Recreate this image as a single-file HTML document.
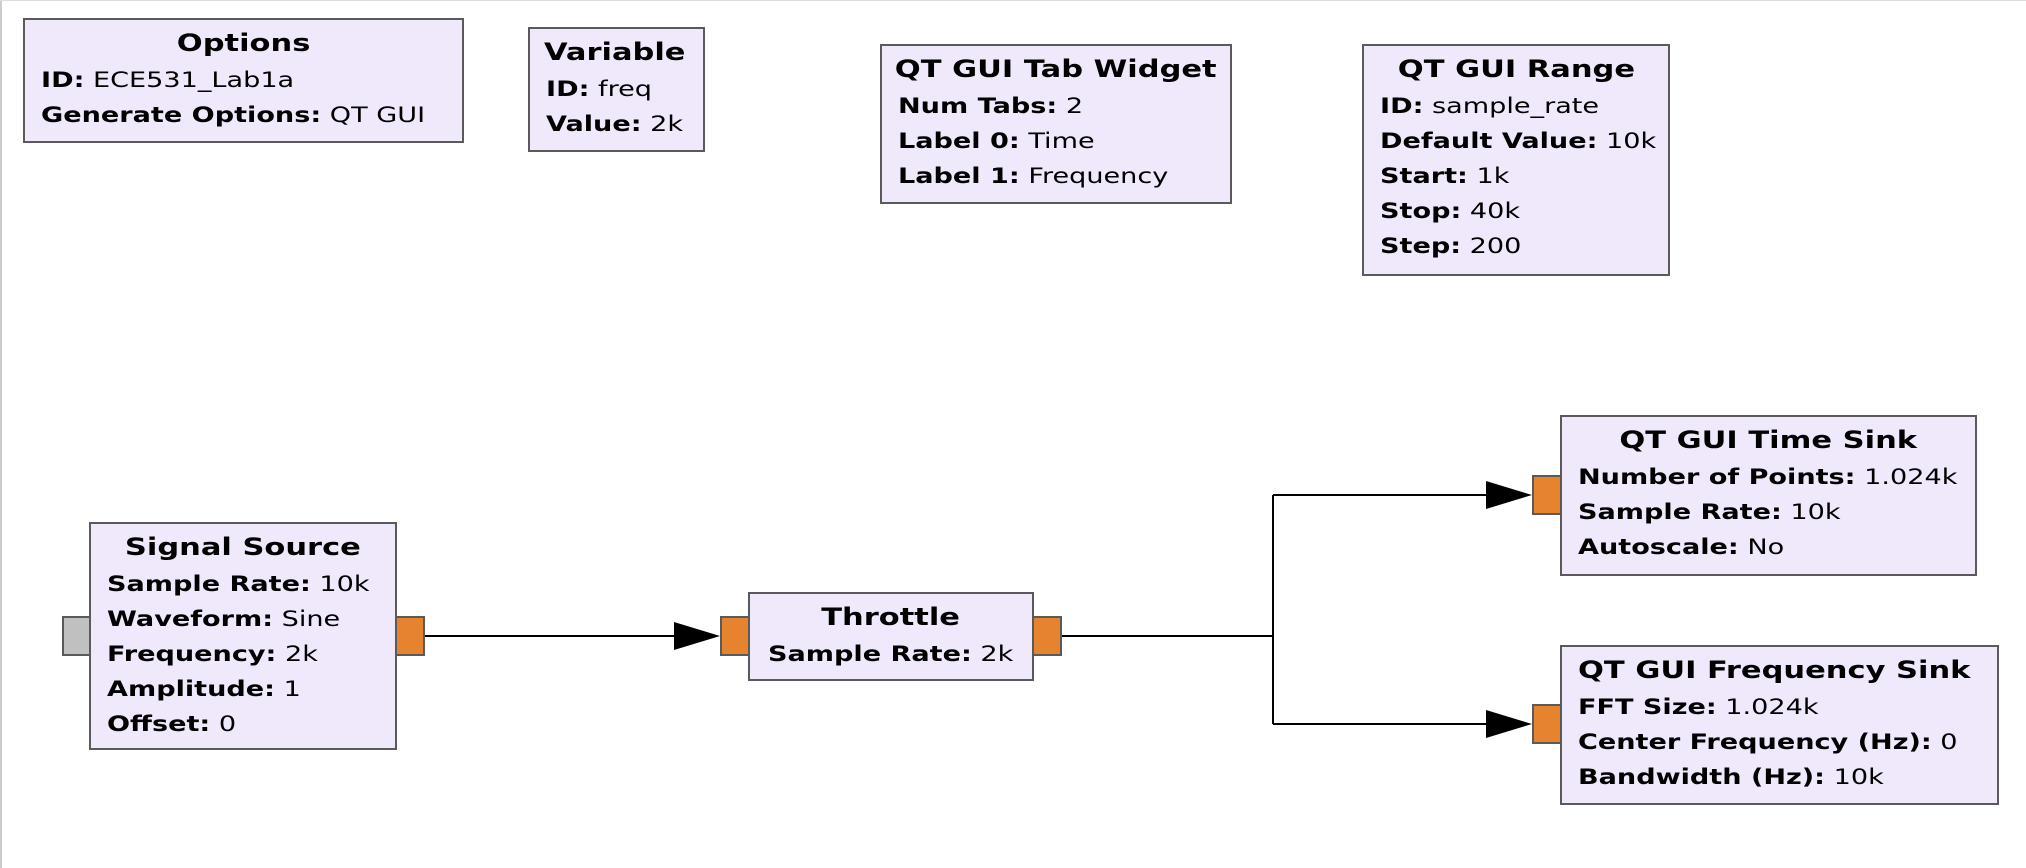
<!DOCTYPE html>
<html><head><meta charset="utf-8"><style>
html,body{margin:0;padding:0;background:#fff;}
body{width:2026px;height:868px;position:relative;overflow:hidden;font-family:"DejaVu Sans","Liberation Sans",sans-serif;color:#000;}
.b{position:absolute;background:#efe9fb;border:2px solid #5a5a5a;box-sizing:border-box;}
.t{position:absolute;left:0;right:0;top:6px;height:35px;line-height:35px;text-align:center;font-weight:bold;font-size:24px;white-space:nowrap;}
.t span{display:inline-block;transform:scaleX(1.27);transform-origin:center;}
.r{position:absolute;left:16px;height:35px;line-height:35px;font-size:21px;white-space:nowrap;transform:scaleX(1.29);transform-origin:left center;}
.r b{font-weight:bold;}
.p{position:absolute;border:2px solid #5a5a5a;box-sizing:border-box;}
.o{background:#e5832f;}
.g{background:#c0c0c0;}
svg{position:absolute;left:0;top:0;}
</style></head><body>
<div style="position:absolute;left:0;top:0;width:2px;height:868px;background:#ccc"></div>
<div style="position:absolute;left:0;top:0;width:2026px;height:1px;background:#ddd"></div>

<svg width="2026" height="868">
<g stroke="#000" stroke-width="2" fill="none">
<polyline points="425,636 690,636"/>
<polyline points="1062,636 1273,636"/>
<polyline points="1273,495 1273,724"/>
<polyline points="1273,495 1500,495"/>
<polyline points="1273,724 1500,724"/>
</g>
<g fill="#000">
<polygon points="674,622 720,636 674,650"/>
<polygon points="1486,481 1532,495 1486,509"/>
<polygon points="1486,710 1532,724 1486,738"/>
</g>
</svg>

<div class="b" style="left:23px;top:18px;width:441px;height:125px">
<div class="t"><span>Options</span></div>
<div class="r" style="top:43px"><b>ID:</b> ECE531_Lab1a</div>
<div class="r" style="top:78px"><b>Generate Options:</b> QT GUI</div>
</div>

<div class="b" style="left:528px;top:27px;width:177px;height:125px">
<div class="t" style="text-align:left;left:14px"><span style="transform-origin:left center">Variable</span></div>
<div class="r" style="top:43px"><b>ID:</b> freq</div>
<div class="r" style="top:78px"><b>Value:</b> 2k</div>
</div>

<div class="b" style="left:880px;top:44px;width:352px;height:160px">
<div class="t"><span>QT GUI Tab Widget</span></div>
<div class="r" style="top:43px"><b>Num Tabs:</b> 2</div>
<div class="r" style="top:78px"><b>Label 0:</b> Time</div>
<div class="r" style="top:113px"><b>Label 1:</b> Frequency</div>
</div>

<div class="b" style="left:1362px;top:44px;width:308px;height:232px">
<div class="t"><span>QT GUI Range</span></div>
<div class="r" style="top:43px"><b>ID:</b> sample_rate</div>
<div class="r" style="top:78px"><b>Default Value:</b> 10k</div>
<div class="r" style="top:113px"><b>Start:</b> 1k</div>
<div class="r" style="top:148px"><b>Stop:</b> 40k</div>
<div class="r" style="top:183px"><b>Step:</b> 200</div>
</div>

<div class="p g" style="left:62px;top:616px;width:29px;height:40px"></div>
<div class="p o" style="left:395px;top:616px;width:30px;height:40px"></div>
<div class="b" style="left:89px;top:522px;width:308px;height:228px">
<div class="t"><span>Signal Source</span></div>
<div class="r" style="top:43px"><b>Sample Rate:</b> 10k</div>
<div class="r" style="top:78px"><b>Waveform:</b> Sine</div>
<div class="r" style="top:113px"><b>Frequency:</b> 2k</div>
<div class="r" style="top:148px"><b>Amplitude:</b> 1</div>
<div class="r" style="top:183px"><b>Offset:</b> 0</div>
</div>

<div class="p o" style="left:720px;top:616px;width:30px;height:40px"></div>
<div class="p o" style="left:1032px;top:616px;width:30px;height:40px"></div>
<div class="b" style="left:748px;top:592px;width:286px;height:89px">
<div class="t"><span>Throttle</span></div>
<div class="r" style="top:43px;left:18px"><b>Sample Rate:</b> 2k</div>
</div>

<div class="p o" style="left:1532px;top:475px;width:30px;height:40px"></div>
<div class="b" style="left:1560px;top:415px;width:417px;height:161px">
<div class="t"><span>QT GUI Time Sink</span></div>
<div class="r" style="top:43px"><b>Number of Points:</b> 1.024k</div>
<div class="r" style="top:78px"><b>Sample Rate:</b> 10k</div>
<div class="r" style="top:113px"><b>Autoscale:</b> No</div>
</div>

<div class="p o" style="left:1532px;top:704px;width:30px;height:40px"></div>
<div class="b" style="left:1560px;top:645px;width:439px;height:160px">
<div class="t" style="text-align:left;left:16px"><span style="transform-origin:left center">QT GUI Frequency Sink</span></div>
<div class="r" style="top:43px"><b>FFT Size:</b> 1.024k</div>
<div class="r" style="top:78px"><b>Center Frequency (Hz):</b> 0</div>
<div class="r" style="top:113px"><b>Bandwidth (Hz):</b> 10k</div>
</div>

</body></html>
